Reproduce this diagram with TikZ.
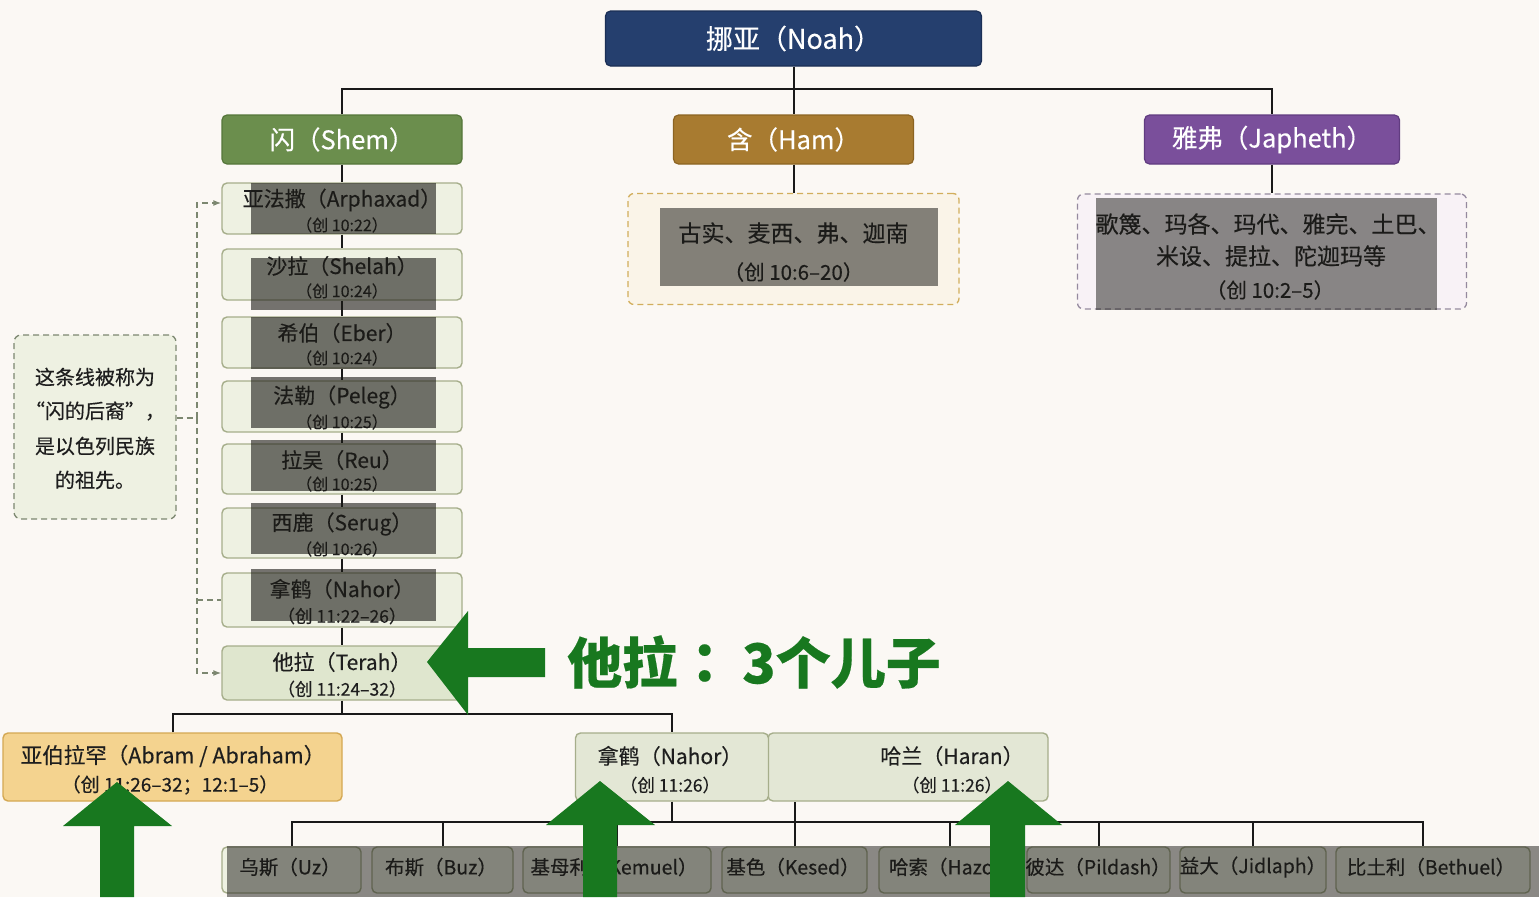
\documentclass[tikz,border=0pt]{standalone}
\usepackage{fontspec}
\setmainfont{Noto Sans CJK SC}[FakeBold=0.35]
\newfontfamily\tcfont{Noto Sans CJK TC}[FakeBold=0.35]
\usetikzlibrary{arrows.meta}
\definecolor{bgc}{HTML}{FBF8F4}
\definecolor{noahc}{HTML}{253F6E}
\definecolor{noahd}{HTML}{1B2F55}
\definecolor{shemc}{HTML}{6B8E4D}
\definecolor{shemd}{HTML}{55763A}
\definecolor{hamc}{HTML}{A87B30}
\definecolor{hamd}{HTML}{8C6422}
\definecolor{japc}{HTML}{7A4F9B}
\definecolor{japd}{HTML}{613C80}
\definecolor{pbf}{HTML}{EEF1E2}
\definecolor{pbd}{HTML}{A6AE8B}
\definecolor{terf}{HTML}{DFE6CE}
\definecolor{abf}{HTML}{F4D38F}
\definecolor{abd}{HTML}{D4A853}
\definecolor{hamboxf}{HTML}{FAF4E8}
\definecolor{hamboxd}{HTML}{D2AE5C}
\definecolor{japboxf}{HTML}{F8F2F6}
\definecolor{japboxd}{HTML}{958A9E}
\definecolor{dashc}{HTML}{7C8770}
\definecolor{txt}{HTML}{1E1E1E}
\definecolor{grn}{HTML}{18781F}
\definecolor{ovc}{HTML}{1A1915}
\newcommand\myfs[1]{\fontsize{#1}{#1}\selectfont}
\tikzset{
  conn/.style={draw=black!90, line width=2pt},
  dconn/.style={draw=dashc, line width=1.4pt, dash pattern=on 6pt off 4pt},
  hdr/.style={rounded corners=5pt, line width=1.2pt, inner sep=0, text=white},
  pbox/.style={rounded corners=5pt, draw=pbd, fill=pbf, line width=1.4pt, inner sep=0},
  nm/.style={inner sep=0, text=txt, font=\myfs{21}},
  rf/.style={inner sep=0, text=txt, font=\myfs{16}},
  rfb/.style={inner sep=0, text=txt, font=\myfs{17.5}},
  bt/.style={inner sep=0, text=txt, font=\myfs{19.5}},
  ovl/.style={fill=ovc, fill opacity=0.6, draw=none},
  garrow/.style={fill=grn, draw=none}
}
\begin{document}
\begin{tikzpicture}[x=1pt,y=-1pt]
\useasboundingbox (0,0) rectangle (1539,897);
\fill[bgc] (0,0) rectangle (1539,897);

% top level
\node[hdr, fill=noahc, draw=noahd, minimum width=376pt, minimum height=55pt, font=\myfs{27}] (noah) at (793.5,38.5) {挪亚（Noah）};
\node[hdr, fill=shemc, draw=shemd, minimum width=240pt, minimum height=49pt, font=\myfs{25.5}] (shem) at (342,139.5) {闪（Shem）};
\node[hdr, fill=hamc, draw=hamd, minimum width=240pt, minimum height=49pt, font=\myfs{25.5}] (ham) at (793.5,139.5) {含（Ham）};
\node[hdr, fill=japc, draw=japd, minimum width=255pt, minimum height=49pt, font=\myfs{25.5}] (japh) at (1272,139.5) {雅弗（Japheth）};
\coordinate (bus1) at (793.5,89);
\draw[conn] (noah) -- (ham);
\draw[conn] (shem.north) |- (japh.north |- bus1) -- (japh.north);

% Ham and Japheth descendants
\node[rounded corners=6pt, draw=hamboxd, fill=hamboxf, line width=1.3pt, dash pattern=on 6pt off 4pt, minimum width=331pt, minimum height=111pt, inner sep=0] (hamd) at (793.5,249) {};
\node[inner sep=0, text=txt, font=\myfs{23}] (hamdn) at (793.5,233) {古实、麦西、弗、迦南};
\node[inner sep=0, text=txt, font=\myfs{20.5}] (hamdr) at (793.5,272) {（创 10:6–20）};
\draw[conn] (ham) -- (hamd);

\node[rounded corners=6pt, draw=japboxd, fill=japboxf, line width=1.3pt, dash pattern=on 6pt off 4pt, minimum width=389pt, minimum height=115pt, inner sep=0] (japd) at (1272,251.5) {};
\node[inner sep=0, text=txt, font=\myfs{23}] (japd1) at (1268,224) {歌篾、玛各、玛代、雅完、土巴、};
\node[inner sep=0, text=txt, font=\myfs{23}] (japd2) at (1271,256) {米设、提拉、陀迦玛等};
\node[inner sep=0, text=txt, font=\myfs{20.5}] (japd3) at (1270,290) {（创 10:2–5）};
\draw[conn] (japh) -- (japd);

% Shem line
\node[pbox, minimum width=240pt, minimum height=51pt] (arp) at (342,208.5) {};
\node[nm] (arpn) at (342,200) {亚法撒（Arphaxad）};
\node[rf] (arpr) at (342,225) {（创 10:22）};
\node[pbox, minimum width=240pt, minimum height=51pt] (shel) at (342,274.5) {};
\node[nm] (sheln) at (342,266) {沙拉（Shelah）};
\node[rf] (shelr) at (342,291) {（创 10:24）};
\node[pbox, minimum width=240pt, minimum height=51pt] (eber) at (342,342.5) {};
\node[nm] (ebern) at (342,333) {希伯（Eber）};
\node[rf] (eberr) at (342,358) {（创 10:24）};
\node[pbox, minimum width=240pt, minimum height=51pt] (peleg) at (342,406.5) {};
\node[nm] (pelegn) at (342,397) {法勒（Peleg）};
\node[rf] (pelegr) at (342,422) {（创 10:25）};
\node[pbox, minimum width=240pt, minimum height=50pt] (reu) at (342,469) {};
\node[nm] (reun) at (342,460) {拉吴（Reu）};
\node[rf] (reur) at (342,484) {（创 10:25）};
\node[pbox, minimum width=240pt, minimum height=50pt] (serug) at (342,533) {};
\node[nm] (serugn) at (342,524) {西鹿（Serug）};
\node[rf] (serugr) at (342,549) {（创 10:26）};
\node[pbox, minimum width=240pt, minimum height=54pt] (nahor) at (342,600) {};
\node[nm] (nahorn) at (342,589) {拿鹤（Nahor）};
\node[rfb] (nahorr) at (342,616) {（创 11:22–26）};
\node[pbox, fill=terf, minimum width=240pt, minimum height=54pt] (terah) at (342,673) {};
\node[nm] (terahn) at (342,662) {他拉（Terah）};
\node[rfb] (terahr) at (342,689) {（创 11:24–32）};
\draw[conn] (shem) -- (arp);
\draw[conn] (arp) -- (shel);
\draw[conn] (shel) -- (eber);
\draw[conn] (eber) -- (peleg);
\draw[conn] (peleg) -- (reu);
\draw[conn] (reu) -- (serug);
\draw[conn] (serug) -- (nahor);
\draw[conn] (nahor) -- (terah);

% note
\node[rounded corners=7pt, draw=dashc, fill=pbf, line width=1.3pt, dash pattern=on 6pt off 4pt, minimum width=162pt, minimum height=184pt, inner sep=0] (note) at (95,427) {};
\node[inner sep=0, text=txt, font=\myfs{20}] (note1) at (95,377) {这条线被称为};
\node[inner sep=0, text=txt, font=\myfs{20}] (note2) at (95,411) {“闪的后裔”，};
\node[inner sep=0, text=txt, font=\myfs{20}] (note3) at (95,446) {是以色列民族};
\node[inner sep=0, text=txt, font=\myfs{20}] (note4) at (95,480) {的祖先。};
\coordinate (njoin) at (197,418);
\coordinate (dtop) at (197,203);
\coordinate (dbot) at (197,673);
\draw[dconn] ([yshift=9pt]note.east) -- (njoin);
\draw[dconn, -{Latex[length=8pt,width=6pt]}] (njoin) -- (dtop) -- (arp.west |- dtop);
\draw[dconn, -{Latex[length=8pt,width=6pt]}] (njoin) -- (dbot) -- (terah.west |- dbot);
\draw[dconn] (nahor.west -| dtop) -- (nahor.west);

% Terah's sons
\node[rounded corners=5pt, draw=abd, fill=abf, line width=1.4pt, minimum width=339pt, minimum height=68pt, inner sep=0] (abram) at (172.5,767) {};
\node[nm, font=\myfs{21.5}] (abramn) at (173,756) {亚伯拉罕（Abram / Abraham）};
\node[rfb, font=\myfs{19}] (abramr) at (170,785) {（创 11:26–32；12:1–5）};
\node[pbox, fill=pbf!85!pbd, minimum width=280pt, minimum height=68pt] (haran) at (908,767) {};
\node[nm] (harann) at (952,756) {哈兰（Haran）};
\node[rfb] (haranr) at (952,785) {（创 11:26）};
\node[pbox, fill=pbf!85!pbd, minimum width=193pt, minimum height=68pt] (nahor2) at (672,767) {};
\node[nm] (nahor2n) at (670,756) {拿鹤（Nahor）};
\node[rfb] (nahor2r) at (670,785) {（创 11:26）};
\coordinate (bus2) at (342,714);
\draw[conn] (terah) -- (bus2);
\draw[conn] (abram.north) |- (nahor2.north |- bus2) -- (nahor2.north);

% Nahor's sons
\node[pbox, minimum width=139pt, minimum height=46pt] (uz) at (291.5,870) {};
\node[bt] (uzn) at (290,867) {乌斯（Uz）};
\node[pbox, minimum width=141pt, minimum height=46pt] (buz) at (442.5,870) {};
\node[bt] (buzn) at (441,867) {布斯（Buz）};
\node[pbox, minimum width=188pt, minimum height=46pt] (kem) at (617,870) {};
\node[bt] (kemn) at (614,867) {基母利（Kemuel）};
\node[pbox, minimum width=145pt, minimum height=46pt] (kes) at (794.5,870) {};
\node[bt] (kesn) at (793,867) {基色（Kesed）};
\node[pbox, minimum width=141pt, minimum height=46pt] (haz) at (949.5,870) {};
\node[bt] (hazn) at (951,867) {哈索（Hazo）};
\node[pbox, minimum width=143pt, minimum height=46pt] (pil) at (1098.5,870) {};
\node[bt] (piln) at (1098,867) {彼达（Pildash）};
\node[pbox, minimum width=146pt, minimum height=46pt] (jid) at (1253,870) {};
\node[bt] (jidn) at (1253,867) {益大（Jidlaph）};
\node[pbox, minimum width=194pt, minimum height=46pt] (beth) at (1433,870) {};
\node[bt] (bethn) at (1431,867) {比土利（Bethuel）};
\coordinate (bus3) at (672,822);
\draw[conn] (nahor2) -- (bus3);
\draw[conn] (uz.north) |- ([xshift=-10pt]beth.north |- bus3) -- ([xshift=-10pt]beth.north);
\draw[conn] (buz.north) -- (buz.north |- bus3);
\draw[conn] (kem.north) -- (kem.north |- bus3);
\draw[conn] (kes.north) -- (kes.north |- haran.south);
\draw[conn] (haz.north) -- (haz.north |- bus3);
\draw[conn] (pil.north) -- (pil.north |- bus3);
\draw[conn] (jid.north) -- (jid.north |- bus3);

% grey overlays
\fill[ovl] (251,183) rectangle (436,234);
\fill[ovl] (251,258) rectangle (436,310);
\fill[ovl] (251,317) rectangle (436,369);
\fill[ovl] (251,377) rectangle (436,428);
\fill[ovl] (251,440) rectangle (436,491);
\fill[ovl] (251,503) rectangle (436,554);
\fill[ovl] (251,569) rectangle (436,621);
\fill[ovl, fill opacity=0.53] (660,208) rectangle (938,286);
\fill[ovl, fill opacity=0.5] (1096,198) rectangle (1437,310);
\fill[ovl, fill opacity=0.5] (227,846) rectangle (1539,897);

% green annotations
\fill[garrow] (427,662) -- (468,611) -- (468,648) -- (545,648) -- (545,677) -- (468,677) -- (468,715) -- cycle;
\node[inner sep=0, text=grn, font=\myfs{55}\bfseries, anchor=west] (terahnote) at (567,662) {他拉{\tcfont\bfseries ：}\hspace{10pt}3个儿子};
\fill[garrow] (117,782) -- (172,826) -- (134,826) -- (134,897) -- (100,897) -- (100,826) -- (63,826) -- cycle;
\fill[garrow] (600,781) -- (655,825) -- (617,825) -- (617,897) -- (583,897) -- (583,825) -- (546,825) -- cycle;
\fill[garrow] (1008,781) -- (1062,825) -- (1025,825) -- (1025,897) -- (990,897) -- (990,825) -- (955,825) -- cycle;
\end{tikzpicture}
\end{document}
